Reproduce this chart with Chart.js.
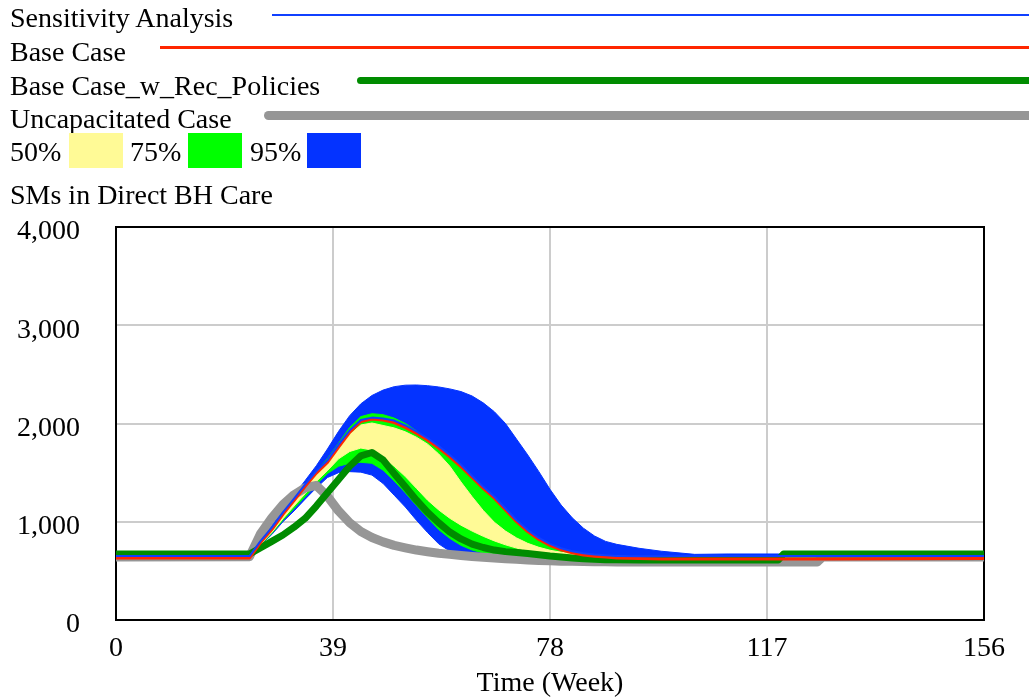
<!DOCTYPE html>
<html lang="en">
<head>
    <meta charset="UTF-8" />
    <title>SMs in Direct BH Care</title>
    <script src="https://cdn.jsdelivr.net/npm/chart.js"></script>
    <style>
        body { margin: 0; background: #fff; font-family: "Liberation Serif", "Times New Roman", serif; }
        #wrap { position: relative; width: 1029px; height: 700px; overflow: hidden; }
        #chart { position: absolute; left: 0; top: 0; }
        .txt { position: absolute; left: 10px; font-size: 28px; line-height: 33px; color: #000; white-space: nowrap; }
        .ln { position: absolute; right: 0; }
        .sw { position: absolute; top: 133px; height: 35px; width: 54px; }
    </style>
</head>
<body>
<div id="wrap">
    <canvas id="chart" width="1029" height="700"></canvas>

    <div class="txt" style="top:1px">Sensitivity Analysis</div>
    <div class="ln" style="left:272px; top:14px; height:2px; background:#1040ff"></div>
    <div class="txt" style="top:35px">Base Case</div>
    <div class="ln" style="left:160px; top:46px; height:3px; background:#ff2600"></div>
    <div class="txt" style="top:69px">Base Case_w_Rec_Policies</div>
    <div class="ln" style="left:357px; top:77px; height:7px; background:#008c00; border-radius:4px 0 0 4px"></div>
    <div class="txt" style="top:102px">Uncapacitated Case</div>
    <div class="ln" style="left:264px; top:111px; height:9px; background:#969696; border-radius:5px 0 0 5px"></div>

    <div class="txt" style="top:135px">50%</div>
    <div class="sw" style="left:69px; background:#fffa96"></div>
    <div class="txt" style="top:135px; left:130px">75%</div>
    <div class="sw" style="left:188px; background:#00ff00"></div>
    <div class="txt" style="top:135px; left:250px">95%</div>
    <div class="sw" style="left:307px; background:#0433ff"></div>

    <div class="txt" style="top:178px">SMs in Direct BH Care</div>
</div>

<script>
    // time axis (weeks) shared by every series
    const weeks = [0, 24, 26, 28, 30, 32, 34, 36, 38, 40, 42, 44, 46, 48, 50, 52, 54, 56, 58, 60,
        62, 64, 66, 68, 70, 72, 74, 76, 78, 80, 82, 84, 86, 88, 90, 94, 98, 104, 110, 119,
        120, 126, 127, 140, 156];

    const sensitivity = [651, 651, 805, 940, 1095, 1235, 1380, 1515, 1625, 1785, 1930, 2035, 2060, 2050, 2030, 1980, 1920, 1850, 1770, 1680,
        1580, 1465, 1355, 1255, 1135, 1015, 915, 835, 775, 730, 700, 680, 667, 658, 652, 648, 648, 651, 651, 651,
        651, 651, 651, 651, 651];

    const baseCase = [631, 631, 790, 920, 1075, 1215, 1360, 1495, 1605, 1760, 1910, 2020, 2045, 2035, 2010, 1960, 1900, 1830, 1750, 1660,
        1560, 1450, 1340, 1240, 1120, 1000, 900, 820, 760, 715, 685, 662, 650, 640, 632, 625, 622, 621, 621, 621,
        621, 621, 621, 623, 625];

    const recPolicies = [672, 672, 735, 800, 865, 945, 1035, 1160, 1295, 1430, 1565, 1670, 1705, 1630, 1490, 1355, 1220, 1095, 990, 895,
        825, 772, 738, 712, 696, 686, 676, 665, 652, 642, 632, 624, 618, 614, 612, 610, 610, 610, 610, 610,
        672, 672, 672, 672, 672];

    const uncapacitated = [641, 645, 880, 1040, 1175, 1275, 1345, 1370, 1260, 1110, 990, 900, 840, 795, 760, 735, 712, 695, 680, 668,
        657, 647, 638, 630, 623, 617, 611, 606, 602, 599, 597, 595, 593, 592, 591, 590, 590, 590, 590, 590,
        590, 590, 641, 641, 641];

    // confidence bounds of the sensitivity run
    const p50Hi = [635, 635, 785, 915, 1065, 1205, 1340, 1475, 1590, 1740, 1890, 1985, 2005, 1980, 1955, 1915, 1860, 1790, 1690, 1565,
        1405, 1255, 1115, 995, 905, 835, 780, 740, 710, 690, 675, 662, 655, 650, 648, 645, 645, 645, 645, 645,
        645, 645, 645, 645, 645];
    const p50Lo = [635, 635, 770, 890, 1030, 1160, 1285, 1410, 1520, 1640, 1715, 1750, 1730, 1655, 1565, 1460, 1340, 1220, 1120, 1035,
        965, 905, 852, 805, 765, 732, 705, 685, 672, 662, 656, 652, 650, 648, 646, 645, 645, 645, 645, 645,
        645, 645, 645, 645, 645];
    const p75Hi = [640, 640, 800, 935, 1090, 1230, 1375, 1515, 1640, 1800, 1960, 2070, 2100, 2090, 2055, 2000, 1925, 1840, 1750, 1660,
        1560, 1450, 1340, 1240, 1120, 1000, 900, 820, 760, 715, 685, 662, 650, 645, 645, 645, 645, 645, 645, 645,
        645, 645, 645, 645, 645];
    const p75Lo = [635, 635, 765, 880, 1015, 1135, 1255, 1380, 1490, 1565, 1595, 1605, 1595, 1525, 1415, 1295, 1165, 1040, 920, 830,
        760, 712, 682, 665, 656, 650, 645, 645, 645, 645, 645, 645, 645, 645, 645, 645, 645, 645, 645, 645,
        645, 645, 645, 645, 645];
    const p95Hi = [651, 651, 820, 960, 1120, 1270, 1420, 1570, 1740, 1920, 2080, 2200, 2285, 2340, 2375, 2390, 2392, 2385, 2372, 2352,
        2325, 2280, 2210, 2120, 2000, 1840, 1680, 1510, 1330, 1170, 1040, 935, 855, 800, 770, 730, 700, 668, 672, 672,
        672, 651, 651, 651, 651];
    const p95Lo = [630, 630, 760, 870, 1000, 1110, 1230, 1345, 1450, 1500, 1510, 1505, 1475, 1390, 1270, 1150, 1015, 890, 775, 700,
        670, 658, 650, 645, 645, 645, 645, 645, 645, 645, 645, 645, 645, 645, 645, 645, 645, 645, 645, 645,
        645, 645, 645, 645, 645];

    const xTicks = [0, 39, 78, 117, 156];
    const yMax = 4000;

    function pts(vals) {
        return vals.map((v, i) => ({ x: weeks[i], y: v }));
    }

    function line(data, color, width) {
        return { data: pts(data), borderColor: color, borderWidth: width, pointRadius: 0,
            fill: false, tension: 0, borderCapStyle: 'round', borderJoinStyle: 'round' };
    }

    function band(data, color, fillTo) {
        return { data: pts(data), borderColor: color, backgroundColor: color, borderWidth: 1,
            pointRadius: 0, tension: 0, fill: fillTo };
    }

    // draws the black box round the plot
    const frame = {
        id: 'frame',
        beforeDatasetsDraw(chart) {
            const a = chart.chartArea;
            const c = chart.ctx;
            c.save();
            c.strokeStyle = '#000';
            c.lineWidth = 2;
            c.strokeRect(a.left, a.top, a.right - a.left, a.bottom - a.top);
            c.restore();
        }
    };

    Chart.defaults.font.family = "'Liberation Serif', 'Times New Roman', serif";
    Chart.defaults.font.size = 28;
    Chart.defaults.color = '#000';

    // first dataset is drawn on top
    new Chart(document.getElementById('chart'), {
        type: 'line',
        data: {
            datasets: [
                line(sensitivity, '#1040ff', 2),
                line(baseCase, '#ff2600', 3),
                line(recPolicies, '#008c00', 7),
                line(uncapacitated, '#969696', 9),
                band(p50Hi, '#fffa96', 5),
                band(p50Lo, '#fffa96', false),
                band(p75Hi, '#00ff00', 7),
                band(p75Lo, '#00ff00', false),
                band(p95Hi, '#0433ff', 9),
                band(p95Lo, '#0433ff', false)
            ]
        },
        options: {
            responsive: false,
            animation: false,
            devicePixelRatio: 1,
            layout: { padding: { top: 227, right: 45, left: 0, bottom: 0 } },
            plugins: { legend: { display: false }, tooltip: { enabled: false } },
            scales: {
                x: {
                    type: 'linear',
                    min: 0,
                    max: 156,
                    afterBuildTicks: s => { s.ticks = xTicks.map(v => ({ value: v })); },
                    afterFit: s => { s.height = 80; },
                    ticks: { padding: 12 },
                    grid: { color: '#cccccc', lineWidth: 2, drawTicks: false },
                    border: { display: false },
                    title: { display: true, text: 'Time (Week)', padding: 0 }
                },
                y: {
                    min: 0,
                    max: yMax,
                    afterFit: s => { s.width = 116; },
                    ticks: { stepSize: 1000, padding: 36, labelOffset: 5 },
                    grid: { color: '#cccccc', lineWidth: 2, drawTicks: false },
                    border: { display: false }
                }
            }
        },
        plugins: [frame]
    });
</script>
</body>
</html>
